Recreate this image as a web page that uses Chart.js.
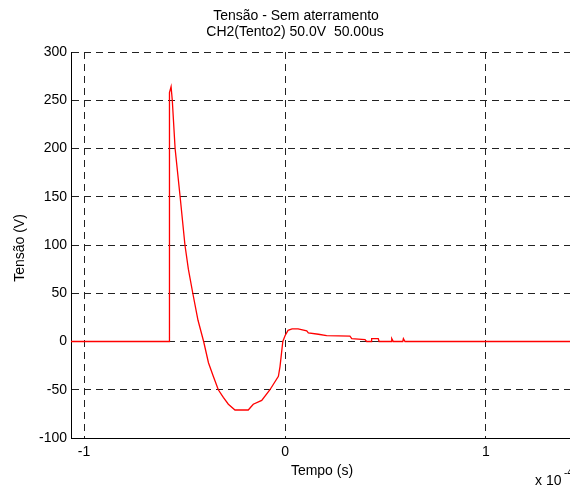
<!DOCTYPE html>
<html>
<head>
<meta charset="utf-8">
<script src="https://cdn.jsdelivr.net/npm/chart.js@4/dist/chart.umd.min.js"></script>
<style>
  html, body { margin: 0; padding: 0; background: #fff; }
  #wrap { width: 570px; height: 488px; }
</style>
</head>
<body>
<div id="wrap"><canvas id="scope"></canvas></div>
<script>
// time in units of 1e-4 s, voltage in V
const timeVals = [-1.065, -0.577, -0.575, -0.567, -0.561, -0.547, -0.522, -0.498, -0.481, -0.459, -0.433, -0.405,
  -0.381, -0.357, -0.332, -0.307, -0.282, -0.249, -0.183, -0.158, -0.116, -0.075, -0.033, -0.025, -0.011,
  0.0, 0.015, 0.035, 0.065, 0.108, 0.116, 0.166, 0.207, 0.323, 0.332, 0.398, 0.406, 0.428, 0.431, 0.464,
  0.468, 0.528, 0.531, 0.539, 0.586, 0.589, 0.597, 1.42];
const voltVals = [0, 0, 258, 264, 250, 200, 150, 100, 75, 50, 22, 0,
  -22, -36, -50, -58, -65, -71, -71, -65, -61, -50, -36, -26, 0,
  6, 11.5, 13, 13, 11, 9, 7.5, 6, 5.5, 3, 2, 0, 0, 3, 3,
  0, 0, 3, 0, 0, 3, 0, 0];
const xTicks = [-1, 0, 1];
const yMin = -100, yMax = 300, yStep = 50;
const titleLines = ["Tensão - Sem aterramento", "CH2(Tento2) 50.0V  50.00us"];

const points = timeVals.map((t, i) => ({ x: t, y: voltVals[i] }));
const FONT = "'Liberation Sans', Arial, sans-serif";

// titles, axis labels and exponent drawn in MATLAB positions
const labelsPlugin = {
  id: "labels",
  afterDraw(chart) {
    const ctx = chart.ctx;
    ctx.save();
    ctx.fillStyle = "#000";
    ctx.font = "14px " + FONT;
    ctx.textAlign = "center";
    ctx.textBaseline = "middle";
    ctx.fillText(titleLines[0], 296, 16);
    ctx.fillText(titleLines[1], 295, 32);
    ctx.fillText("Tempo (s)", 322, 471);
    ctx.save();
    ctx.translate(20, 248);
    ctx.rotate(-Math.PI / 2);
    ctx.fillText("Tensão (V)", 0, 0);
    ctx.restore();
    ctx.textAlign = "left";
    ctx.fillText("x 10", 535, 481);
    ctx.font = "10px " + FONT;
    ctx.fillText("-4", 564, 473);
    ctx.restore();
  }
};

new Chart(document.getElementById("scope"), {
  type: "line",
  data: {
    datasets: [{
      data: points,
      borderColor: "#ff0000",
      borderWidth: 1.3,
      pointRadius: 0,
      tension: 0,
      fill: false
    }]
  },
  options: {
    responsive: true,
    maintainAspectRatio: false,
    animation: false,
    layout: { padding: { top: 52, right: 0, bottom: 0, left: 0 } },
    plugins: { legend: { display: false }, tooltip: { enabled: false } },
    scales: {
      x: {
        type: "linear",
        min: -1.065,
        max: 1.418,
        afterBuildTicks: (scale) => { scale.ticks = xTicks.map(v => ({ value: v })); },
        afterFit: (scale) => { scale.height = 50; },
        ticks: { color: "#000", font: { family: FONT, size: 14 }, padding: 6, maxRotation: 0,
          callback: (v) => String(v) },
        grid: { color: "#222", drawTicks: false, lineWidth: 1 },
        border: { display: true, color: "#000", width: 1, dash: [7, 5] }
      },
      y: {
        min: yMin,
        max: yMax,
        ticks: { stepSize: yStep, color: "#000", font: { family: FONT, size: 14 }, padding: 4 },
        afterFit: (scale) => { scale.width = 71; },
        grid: { color: "#222", drawTicks: false, lineWidth: 1 },
        border: { display: true, color: "#000", width: 1, dash: [7, 5] }
      }
    }
  },
  plugins: [labelsPlugin]
});
</script>
</body>
</html>
